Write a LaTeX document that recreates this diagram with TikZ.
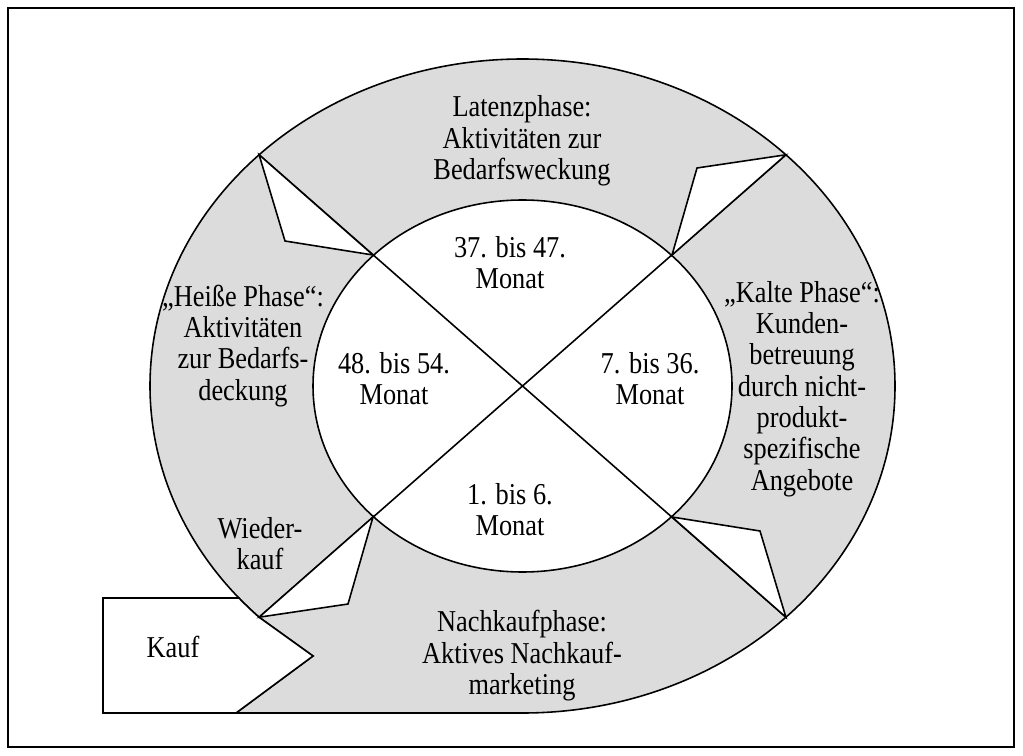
\documentclass[tikz,border=0pt]{standalone}
\usepackage{fontspec}
\setmainfont{Liberation Serif}
\usepackage{graphicx}
\usepackage{tikz}
\usetikzlibrary{positioning}
\definecolor{ringgray}{RGB}{220,220,220}
\newcommand{\talltext}[1]{%
    \scalebox{1}[1.15]{\begin{tabular}{@{}c@{}}#1\end{tabular}}}
\tikzset{%
    ring/.style={%
        draw, fill=ringgray, line width=0.9pt, line join=miter
    },
    blank/.style={%
        draw, fill=white, line width=0.9pt, line join=miter
    },
    phase/.style={%
        align=center, inner sep=0pt,
        font=\fontsize{15}{15.5}\selectfont
    }
}

\begin{document}
\begin{tikzpicture}[x=0.02cm, y=-0.02cm]
    \useasboundingbox (0,0) rectangle (1023,756);
    \draw[line width=0.9pt] (8,8) rectangle (1014,747);

    \coordinate (c) at (522.5,386);
    \coordinate (tl) at (259.1,154.8);
    \coordinate (tr) at (785.9,154.8);
    \coordinate (bl) at (259.1,617.2);
    \coordinate (br) at (785.9,617.2);

    \coordinate (itl) at (373,255);
    \coordinate (itr) at (672,255);
    \coordinate (ibl) at (373,517);
    \coordinate (ibr) at (672,517);

    % outer ring with the tail towards Kauf
    \draw[ring] (bl) -- (313,656) -- (236,713) -- (522.5,713)
        arc[start angle=90, end angle=-225, x radius=372.5, y radius=327]
        -- cycle;

    % Kauf
    \draw[blank] (103,598) -- (238.9,598)
        arc[start angle=139.6, end angle=135, x radius=372.5, y radius=327]
        -- (313,656) -- (236,713) -- (103,713) -- cycle;

    % inner circle
    \draw[blank] (c) ellipse [x radius=209.5, y radius=186];

    \draw[line width=0.9pt]
        (tl) -- (br)
        (tr) -- (bl)
        ;

    % arrows
    \draw[blank] (tl) -- (285,241) -- (itl) -- cycle;
    \draw[blank] (tr) -- (697,168) -- (itr) -- cycle;
    \draw[blank] (br) -- (760,531) -- (ibr) -- cycle;
    \draw[blank] (bl) -- (348,604) -- (ibl) -- cycle;

    \node[phase] (latenz) at (522,142) {\talltext{Latenzphase:\\Aktivitäten zur\\Bedarfsweckung}};
    \node[phase] (m37) at (510,267) {\talltext{37. bis 47.\\Monat}};
    \node[phase] (heiss) at (243,347) {\talltext{„Heiße Phase“:\\Aktivitäten\\zur Bedarfs-\\deckung}};
    \node[phase] (m48) at (394,383) {\talltext{48. bis 54.\\Monat}};
    \node[phase] (m7) at (650,383) {\talltext{7. bis 36.\\Monat}};
    \node[phase] (kalte) at (802,390) {\talltext{„Kalte Phase“:\\Kunden-\\betreuung\\durch nicht-\\produkt-\\spezifische\\Angebote}};
    \node[phase] (m1) at (510,514) {\talltext{1. bis 6.\\Monat}};
    \node[phase] (wieder) at (260,548) {\talltext{Wieder-\\kauf}};
    \node[phase] (kauf) at (173,651) {\talltext{Kauf}};
    \node[phase] (nachkauf) at (522,657) {\talltext{Nachkaufphase:\\Aktives Nachkauf-\\marketing}};
\end{tikzpicture}
\end{document}
